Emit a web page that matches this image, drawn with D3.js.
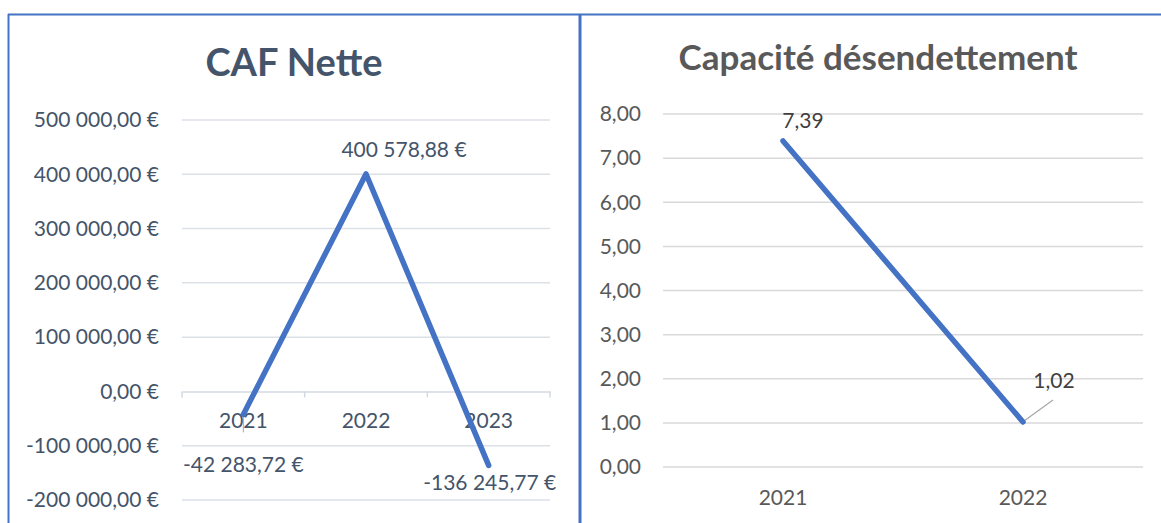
<!DOCTYPE html>
<html>
<head>
<meta charset="utf-8">
<script src="https://cdn.jsdelivr.net/npm/d3@7"></script>
<style>
  body { margin: 0; background: #fff; }
  svg { display: block; font-family: Lato, "Open Sans", sans-serif; }
</style>
</head>
<body>
<svg id="chart"></svg>
<script>
// CAF Nette
const cafYears = ['2021', '2022', '2023'];
const cafValues = [-42283.72, 400578.88, -136245.77];
const cafTicks = [-200000, -100000, 0, 100000, 200000, 300000, 400000, 500000];

// Capacité désendettement
const capYears = ['2021', '2022'];
const capValues = [7.39, 1.02];
const capTicks = [0, 1, 2, 3, 4, 5, 6, 7, 8];

const width = 1161;
const height = 523;
const blue = '#4472C4';

const svg = d3.select('#chart')
	.attr('width', width)
	.attr('height', height);

const fr = d3.formatLocale({ decimal: ',', thousands: ' ', grouping: [3], currency: ['', ' €'], minus: '-' });
const euro = v => fr.format(',.2f')(v) + ' €';
const num2 = v => fr.format('.2f')(v);

// ---- left chart ----
const left = svg.append('g').attr('class', 'caf');
const xL = d3.scaleBand().domain(cafYears).range([182, 550]);
const yL = d3.scaleLinear().domain([-200000, 500000]).range([500, 120]);
const cafColor = '#44546A';

left.append('text')
	.attr('x', 294).attr('y', 76)
	.attr('text-anchor', 'middle')
	.attr('font-size', 38).attr('font-weight', 700)
	.attr('fill', cafColor)
	.text('CAF Nette');

left.selectAll('line.grid')
	.data(cafTicks.filter(d => d !== 0)).enter()
	.append('line')
	.attr('class', 'grid')
	.attr('x1', 182).attr('x2', 550)
	.attr('y1', d => yL(d)).attr('y2', d => yL(d))
	.attr('stroke', '#DCE1E8').attr('stroke-width', 1.5);

left.selectAll('text.ytick')
	.data(cafTicks).enter()
	.append('text')
	.attr('class', 'ytick')
	.attr('x', 159).attr('y', d => yL(d))
	.attr('dy', '0.35em')
	.attr('text-anchor', 'end')
	.attr('font-size', 21)
	.attr('fill', cafColor)
	.text(euro);

// zero axis with tick marks
const xAxisL = left.append('g')
	.attr('transform', `translate(0, ${yL(0)})`)
	.call(d3.axisBottom(xL).tickSize(0).tickFormat(''));
xAxisL.select('.domain').attr('stroke', '#D3D9E2').attr('stroke-width', 1.5);
left.selectAll('line.xtick')
	.data(xL.domain().map(d => xL(d)).concat([xL.range()[1]])).enter()
	.append('line')
	.attr('x1', d => d).attr('x2', d => d)
	.attr('y1', yL(0)).attr('y2', yL(0) + 6)
	.attr('stroke', '#D3D9E2').attr('stroke-width', 1.5);

left.selectAll('text.xlab')
	.data(cafYears).enter()
	.append('text')
	.attr('x', d => xL(d) + xL.bandwidth() / 2)
	.attr('y', yL(0) + 37)
	.attr('text-anchor', 'middle')
	.attr('font-size', 21)
	.attr('fill', cafColor)
	.text(d => d);

// leader for 2021 label
left.append('line')
	.attr('x1', xL('2021') + xL.bandwidth() / 2).attr('x2', xL('2021') + xL.bandwidth() / 2)
	.attr('y1', yL(cafValues[0])).attr('y2', yL(cafValues[0]) + 18)
	.attr('stroke', '#A6A6A6').attr('stroke-width', 1);

left.append('path')
	.datum(cafValues)
	.attr('fill', 'none')
	.attr('stroke', blue)
	.attr('stroke-width', 5.5)
	.attr('stroke-linecap', 'round')
	.attr('stroke-linejoin', 'round')
	.attr('d', d3.line().x((d, i) => xL(cafYears[i]) + xL.bandwidth() / 2).y(d => yL(d)));

const cafLabelOff = [[0, 58], [38, -17], [1, 25]];
left.selectAll('text.dlab')
	.data(cafValues).enter()
	.append('text')
	.attr('x', (d, i) => xL(cafYears[i]) + xL.bandwidth() / 2 + cafLabelOff[i][0])
	.attr('y', (d, i) => yL(d) + cafLabelOff[i][1])
	.attr('text-anchor', 'middle')
	.attr('font-size', 21)
	.attr('fill', cafColor)
	.text(euro);

// ---- right chart ----
const right = svg.append('g').attr('class', 'cap');
const xR = d3.scaleBand().domain(capYears).range([663, 1143]);
const yR = d3.scaleLinear().domain([0, 8]).range([467, 114]);
const capColor = '#595959';

right.append('text')
	.attr('x', 878).attr('y', 70)
	.attr('text-anchor', 'middle')
	.attr('font-size', 35).attr('font-weight', 700)
	.attr('fill', capColor)
	.text('Capacité désendettement');

right.selectAll('line.grid')
	.data(capTicks).enter()
	.append('line')
	.attr('x1', 663).attr('x2', 1143)
	.attr('y1', d => yR(d)).attr('y2', d => yR(d))
	.attr('stroke', '#D9D9D9').attr('stroke-width', 1.5);

right.selectAll('text.ytick')
	.data(capTicks).enter()
	.append('text')
	.attr('x', 641).attr('y', d => yR(d))
	.attr('dy', '0.35em')
	.attr('text-anchor', 'end')
	.attr('font-size', 21)
	.attr('fill', capColor)
	.text(num2);

right.selectAll('text.xlab')
	.data(capYears).enter()
	.append('text')
	.attr('x', d => xR(d) + xR.bandwidth() / 2)
	.attr('y', 505)
	.attr('text-anchor', 'middle')
	.attr('font-size', 21)
	.attr('fill', capColor)
	.text(d => d);

const cx = (d, i) => xR(capYears[i]) + xR.bandwidth() / 2;

// leader for 1,02
right.append('line')
	.attr('x1', cx(capValues[1], 1) + 1).attr('y1', yR(capValues[1]) - 1)
	.attr('x2', cx(capValues[1], 1) + 30).attr('y2', yR(capValues[1]) - 22)
	.attr('stroke', '#A6A6A6').attr('stroke-width', 1.2);

right.append('path')
	.datum(capValues)
	.attr('fill', 'none')
	.attr('stroke', blue)
	.attr('stroke-width', 5.5)
	.attr('stroke-linecap', 'round')
	.attr('d', d3.line().x(cx).y(d => yR(d)));

const capLabelOff = [[20, -13], [31, -34]];
right.selectAll('text.dlab')
	.data(capValues).enter()
	.append('text')
	.attr('x', (d, i) => cx(d, i) + capLabelOff[i][0])
	.attr('y', (d, i) => yR(d) + capLabelOff[i][1])
	.attr('text-anchor', 'middle')
	.attr('font-size', 21)
	.attr('fill', '#404040')
	.text(num2);

// ---- chart borders ----
svg.append('line')
	.attr('x1', 8).attr('x2', width).attr('y1', 14.5).attr('y2', 14.5)
	.attr('stroke', blue).attr('stroke-width', 2);
svg.append('line')
	.attr('x1', 8.5).attr('x2', 8.5).attr('y1', 14).attr('y2', height)
	.attr('stroke', blue).attr('stroke-width', 2);
svg.append('line')
	.attr('x1', 580).attr('x2', 580).attr('y1', 14).attr('y2', height)
	.attr('stroke', blue).attr('stroke-width', 3);
</script>
</body>
</html>
